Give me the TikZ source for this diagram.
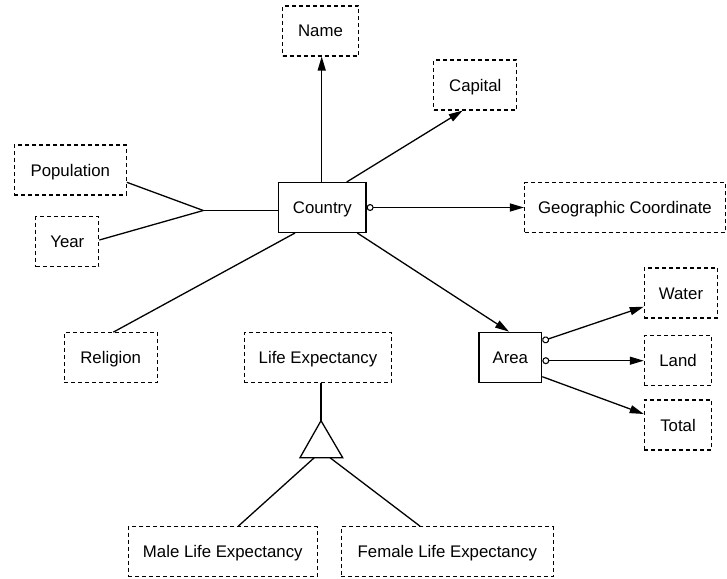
\documentclass[tikz,border=0pt]{standalone}
\usepackage{fontspec}
\setmainfont{Liberation Sans}
\usetikzlibrary{arrows.meta,calc}
\begin{document}
\begin{tikzpicture}[x=1pt,y=-1pt,
  every node/.style={font=\fontsize{16.8}{20}\selectfont, inner sep=0pt, text height=12pt, text depth=0pt, align=center},
  attr/.style={draw, dash pattern=on 4pt off 3pt, line width=1.1pt},
  ent/.style={draw, line width=1.3pt},
  conn/.style={line width=1.3pt},
  arr/.style={conn, -{Triangle[length=14pt,width=8pt]}},
  carr/.style={conn, {Circle[open,length=7pt,width=7pt,line width=1.1pt]}-{Triangle[length=14pt,width=8pt]}},
]
\useasboundingbox (0,0) rectangle (727,578);

\node[attr, minimum width=76pt, minimum height=50pt] (name) at (320.5,31) {Name};
\node[attr, minimum width=83pt, minimum height=50pt] (capital) at (475.3,85) {Capital};
\node[attr, minimum width=112pt, minimum height=50pt] (population) at (70.3,170) {Population};
\node[attr, minimum width=63pt, minimum height=50pt] (year) at (67.3,241.7) {Year};
\node[ent, minimum width=87.3pt, minimum height=49.7pt] (country) at (322.3,207.5) {Country};
\node[attr, minimum width=201pt, minimum height=49.7pt] (geo) at (625,207.5) {Geographic Coordinate};
\node[ent, minimum width=62.7pt, minimum height=50pt] (area) at (510.3,357.3) {Area};
\node[attr, minimum width=73.4pt, minimum height=50pt] (water) at (681,293) {Water};
\node[attr, minimum width=67.4pt, minimum height=50pt] (land) at (678,360.7) {Land};
\node[attr, minimum width=67.4pt, minimum height=50pt] (total) at (678,425) {Total};
\node[attr, minimum width=93.3pt, minimum height=50pt] (religion) at (110.7,357.7) {Religion};
\node[attr, minimum width=147.4pt, minimum height=50pt] (life) at (318,357.7) {Life Expectancy};
\node[attr, minimum width=189pt, minimum height=50pt] (male) at (222.8,551.7) {Male Life Expectancy};
\node[attr, minimum width=212pt, minimum height=50pt] (female) at (447.3,551.7) {Female Life Expectancy};

\coordinate (fork) at (203.3,210.5);
\coordinate (tapex) at (321,420.7);
\coordinate (tbl) at (300,457.7);
\coordinate (tbr) at (342.7,457.7);

% Country attributes
\draw[arr] ($(country.north)+(-0.6,0)$) -- ($(name.south)+(1.2,0)$);
\draw[arr] ($(country.north)+(24.4,0)$) -- ($(capital.south)+(-12.6,0)$);
\draw[carr] ($(country.east)$) -- (geo.west);
\draw[arr] ($(country.south)+(35,0)$) -- ($(area.north)+(-1.3,0)$);
\draw[conn] ($(country.south)+(-0.6,0)$) -- ($(country.south)+(-0.6,0)$ |- life.north);
\draw[conn] ($(country.south)+(-27.3,0)$) -- ($(religion.north)+(2.6,0)$);
\draw[conn] (fork) -- (fork -| country.west);
\draw[conn] ($(population.east)+(0,12.3)$) -- (fork);
\draw[conn] ($(year.east)+(0,-1.7)$) -- (fork);

% Area attributes
\draw[carr] ($(area.east)+(0,-16.3)$) -- ($(water.west)+(0,13.7)$);
\draw[carr] (area.east |- land.west) -- (land.west);
\draw[arr] ($(area.east)+(0,19.4)$) -- ($(total.west)+(0,-11)$);

% Life expectancy specialisation
\draw[conn] (life.south -| tapex) -- (tapex);
\draw[conn, line join=miter] (tapex) -- (tbl) -- (tbr) -- cycle;
\draw[conn] ($(tbl)+(14.3,0)$) -- ($(male.north)+(15.5,0)$);
\draw[conn] ($(tbl)+(30,0)$) -- ($(female.north)+(-27.3,0)$);
\end{tikzpicture}
\end{document}
